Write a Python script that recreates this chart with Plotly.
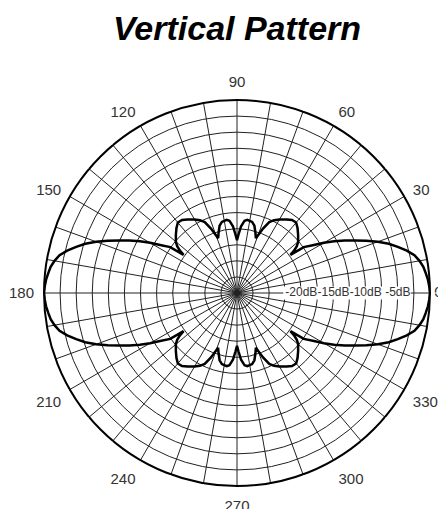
import plotly.graph_objects as go

# Pattern data (angle in degrees, relative level in dB)
theta_deg = [
    0, 2, 4, 6, 8, 10, 12, 14, 16, 18, 20, 22, 24, 26, 28, 30, 32, 34.5, 35.5, 36.5,
    38, 40, 43.5, 47, 50, 53, 56, 60, 63, 65.5, 68, 71, 73, 75.5, 78, 82, 84, 86.5, 88.5, 90,
    91.5, 93.5, 96, 98, 102, 104.5, 107, 109, 112, 114.5, 117, 120, 124, 127, 130, 133, 136.5,
    140, 142, 143.5, 144.5, 145.5, 148, 150, 152, 154, 156, 158, 160, 162, 164, 166, 168, 170,
    172, 174, 176, 178, 180,
    182, 184, 186, 188, 190, 192, 194, 196, 198, 200, 202, 204, 206, 208, 210, 212, 214.5,
    215.5, 216.5, 218, 220, 223.5, 227, 230, 233, 236, 240, 243, 245.5, 248, 251, 253, 255.5,
    258, 262, 264, 266.5, 268.5, 270,
    271.5, 273.5, 276, 278, 282, 284.5, 287, 289, 292, 294.5, 297, 300, 304, 307, 310, 313,
    316.5, 320, 322, 323.5, 324.5, 325.5, 328, 330, 332, 334, 336, 338, 340, 342, 344, 346,
    348, 350, 352, 354, 356, 358, 360,
]
level_db = [
    0.0, -0.1, -0.25, -0.5, -0.75, -1.2, -1.8, -2.8, -4.0, -5.2, -6.7, -8.3, -9.9, -11.4, -12.9,
    -14.4, -15.9, -17.4, -19.8, -19.0, -18.2, -17.6, -16.9, -16.2, -15.7, -15.8, -16.2, -16.8,
    -17.3, -17.9, -19.2, -21.0, -20.2, -19.2, -18.7, -18.5, -18.7, -19.6, -20.9, -21.8,
    -20.9, -19.6, -18.7, -18.5, -18.7, -19.2, -20.2, -21.0, -19.2, -17.9, -17.3, -16.8, -16.2,
    -15.8, -15.7, -16.2, -16.9, -17.6, -18.2, -19.0, -19.8, -17.4, -15.9, -14.4, -12.9, -11.4,
    -9.9, -8.3, -6.7, -5.2, -4.0, -2.8, -1.8, -1.2, -0.75, -0.5, -0.25, -0.1, 0.0,
    -0.1, -0.25, -0.5, -0.75, -1.2, -1.8, -2.8, -4.0, -5.2, -6.7, -8.3, -9.9, -11.4, -12.9,
    -14.4, -15.9, -17.4, -19.8, -19.0, -18.2, -17.6, -16.9, -16.2, -15.7, -15.8, -16.2, -16.8,
    -17.3, -17.9, -19.2, -21.0, -20.2, -19.2, -18.7, -18.5, -18.7, -19.6, -20.9, -21.8,
    -20.9, -19.6, -18.7, -18.5, -18.7, -19.2, -20.2, -21.0, -19.2, -17.9, -17.3, -16.8, -16.2,
    -15.8, -15.7, -16.2, -16.9, -17.6, -18.2, -19.0, -19.8, -17.4, -15.9, -14.4, -12.9, -11.4,
    -9.9, -8.3, -6.7, -5.2, -4.0, -2.8, -1.8, -1.2, -0.75, -0.5, -0.25, -0.1, 0.0,
]

# Axes
radial_range = [-30, 0]
radial_grid = [-27.5, -25, -22.5, -20, -17.5, -15, -12.5, -10, -7.5, -5, -2.5]
radial_label_vals = [-20, -15, -10, -5]
radial_label_text = ["-20dB", "-15dB", "-10dB", "-5dB"]
angle_grid = list(range(0, 360, 10))
# the "0" label sits closer to the rim in the reference; drawn separately below
angle_labels = [str(a) if (a % 30 == 0 and a != 0) else "" for a in angle_grid]
zero_label = "0"

FONT = "Liberation Sans, Arial, sans-serif"

fig = go.Figure()

fig.add_trace(go.Scatterpolar(
    r=level_db, theta=theta_deg, mode="lines",
    line=dict(color="black", width=2.5),
    hoverinfo="skip", showlegend=False,
))

# white backing behind the radial labels
fig.add_trace(go.Scatterpolar(
    r=[-22.8, -3.0], theta=[0, 0], mode="lines",
    line=dict(color="white", width=13),
    hoverinfo="skip", showlegend=False,
))
fig.add_trace(go.Scatterpolar(
    r=radial_label_vals, theta=[0] * len(radial_label_vals), mode="text",
    text=radial_label_text, textposition="middle center",
    textfont=dict(family=FONT, size=12, color="#333333"),
    hoverinfo="skip", showlegend=False,
))
fig.add_trace(go.Scatterpolar(
    r=[radial_range[1]], theta=[0], mode="text",
    text=[" " + zero_label], textposition="middle right", cliponaxis=False,
    textfont=dict(family=FONT, size=15, color="#333333"),
    hoverinfo="skip", showlegend=False,
))

W, H = 446, 509
OFF = 8  # page body margin
cx, cy, R = 237 - OFF, 293 - OFF, 193

fig.update_layout(
    width=W, height=H,
    margin=dict(l=0, r=0, t=0, b=0),
    paper_bgcolor="white",
    title=dict(
        text="<b><i>Vertical Pattern</i></b>",
        font=dict(family=FONT, size=34, color="black"),
        x=cx / W, xanchor="center", xref="paper",
        y=1 - (28 - OFF) / H, yanchor="middle", yref="container",
    ),
    polar=dict(
        domain=dict(x=[(cx - R) / W, (cx + R) / W], y=[(H - cy - R) / H, (H - cy + R) / H]),
        bgcolor="white",
        radialaxis=dict(
            range=radial_range, tickvals=radial_grid, showticklabels=False,
            ticks="", showline=False, gridcolor="#222222", gridwidth=1, angle=0,
        ),
        angularaxis=dict(
            direction="counterclockwise", rotation=0,
            tickvals=angle_grid, ticktext=angle_labels,
            ticks="outside", ticklen=6, tickcolor="white",
            gridcolor="#222222", gridwidth=1,
            showline=True, linecolor="black", linewidth=2,
            tickfont=dict(family=FONT, size=15, color="#333333"),
        ),
    ),
)

fig.write_html("out.html")
